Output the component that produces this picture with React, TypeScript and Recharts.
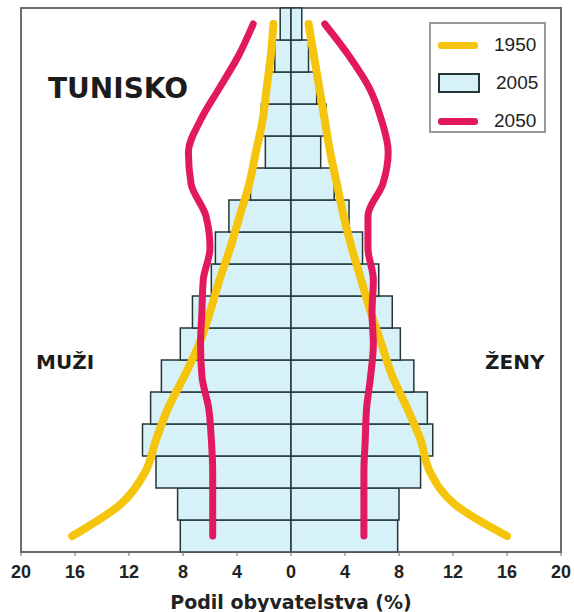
import { ComposedChart, Bar, Line, XAxis, YAxis, ReferenceArea } from 'recharts';

// age groups, youngest first (bottom of the pyramid)
const ages = ['0-4', '5-9', '10-14', '15-19', '20-24', '25-29', '30-34', '35-39', '40-44', '45-49', '50-54', '55-59', '60-64', '65-69', '70-74', '75-79', '80+'];

// 2005 bars (% of population)
const men2005 = [8.2, 8.4, 10.0, 11.0, 10.4, 9.6, 8.2, 7.3, 5.9, 5.6, 4.6, 3.0, 1.9, 2.2, 1.8, 1.2, 0.8];
const women2005 = [7.9, 8.0, 9.6, 10.5, 10.1, 9.1, 8.1, 7.5, 6.5, 5.3, 4.3, 3.2, 2.2, 2.6, 1.9, 1.3, 0.8];

// 1950 curve
const men1950 = [16.2, 12.6, 10.8, 10.0, 9.1, 7.9, 6.8, 6.0, 5.3, 4.5, 3.8, 3.1, 2.6, 2.1, 1.8, 1.5, 1.3];
const women1950 = [16.0, 12.1, 10.3, 9.6, 8.6, 7.5, 6.7, 5.9, 5.2, 4.5, 3.9, 3.4, 2.9, 2.5, 2.1, 1.7, 1.3];

// 2050 curve
const men2050 = [5.8, 5.8, 5.8, 5.9, 6.1, 6.6, 6.7, 6.6, 6.5, 6.0, 6.3, 7.4, 7.6, 6.7, 5.3, 3.9, 2.8];
const women2050 = [5.4, 5.4, 5.4, 5.5, 5.6, 5.9, 6.1, 6.0, 6.1, 5.7, 5.7, 6.8, 7.2, 6.7, 5.8, 4.3, 2.5];

const xTicks = [-20, -16, -12, -8, -4, 0, 4, 8, 12, 16, 20];

const rows = ages.map((age, i) => ({
  age,
  m2005: -men2005[i],
  f2005: women2005[i],
  m1950: -men1950[i],
  f1950: women1950[i],
  m2050: -men2050[i],
  f2050: women2050[i],
}));

const YELLOW = '#f5c40c';
const PINK = '#e2195e';
const BAR_FILL = '#d6f1f7';
const BAR_EDGE = '#263636';

const legendItems = [
  { label: '1950', kind: 'line', color: YELLOW },
  { label: '2005', kind: 'box', color: BAR_FILL },
  { label: '2050', kind: 'line', color: PINK },
];

function LegendBox() {
  return (
    <div style={{ position: 'absolute', left: 429, top: 22, width: 117, height: 111, border: '2px solid #999', background: '#fff', boxSizing: 'border-box', paddingTop: 2 }}>
      {legendItems.map((it) => (
        <div key={it.label} style={{ display: 'flex', alignItems: 'center', height: 38, paddingLeft: 7 }}>
          {it.kind === 'line' ? (
            <div style={{ width: 40, height: 7, borderRadius: 3, background: it.color }} />
          ) : (
            <div style={{ width: 38, height: 16, background: it.color, border: `2px solid ${BAR_EDGE}` }} />
          )}
          <span style={{ marginLeft: 16, fontFamily: 'Liberation Sans', fontSize: 19, color: '#222' }}>{it.label}</span>
        </div>
      ))}
    </div>
  );
}

const sideLabel = { position: 'absolute' as const, fontFamily: 'DejaVu Sans', fontWeight: 700, color: '#1c1c1c' };

export default function App() {
  return (
    <div style={{ position: 'absolute', left: 0, top: 0, width: 574, height: 612, background: '#fff' }}>
      <ComposedChart
        width={574}
        height={612}
        layout="vertical"
        data={rows}
        stackOffset="sign"
        barCategoryGap={0}
        margin={{ top: 8, right: 13, left: 21, bottom: 0 }}
      >
        <XAxis
          type="number"
          domain={[-20, 20]}
          ticks={xTicks}
          tickFormatter={(v) => `${Math.abs(v)}`}
          height={60}
          stroke="#666"
          tickSize={4}
          tickMargin={9}
          tick={{ fill: '#222', fontSize: 18, fontWeight: 700, fontFamily: 'Liberation Sans' }}
          label={{ value: 'Podil obyvatelstva (%)', position: 'insideBottom', offset: 3, fill: '#222', fontSize: 19, fontWeight: 700, fontFamily: 'DejaVu Sans' }}
        />
        <YAxis type="category" dataKey="age" hide width={0} reversed />
        <ReferenceArea x1={-20} x2={20} fill="none" stroke="#6e6e6e" strokeWidth={2} />
        <Bar dataKey="m2005" stackId="p" fill={BAR_FILL} stroke={BAR_EDGE} strokeWidth={1.5} isAnimationActive={false} />
        <Bar dataKey="f2005" stackId="p" fill={BAR_FILL} stroke={BAR_EDGE} strokeWidth={1.5} isAnimationActive={false} />
        <Line dataKey="m1950" type="monotone" stroke={YELLOW} strokeWidth={8} strokeLinecap="round" dot={false} isAnimationActive={false} />
        <Line dataKey="f1950" type="monotone" stroke={YELLOW} strokeWidth={8} strokeLinecap="round" dot={false} isAnimationActive={false} />
        <Line dataKey="m2050" type="monotone" stroke={PINK} strokeWidth={7} strokeLinecap="round" dot={false} isAnimationActive={false} />
        <Line dataKey="f2050" type="monotone" stroke={PINK} strokeWidth={7} strokeLinecap="round" dot={false} isAnimationActive={false} />
      </ComposedChart>
      <LegendBox />
      <div style={{ ...sideLabel, left: 48, top: 72, fontSize: 28 }}>TUNISKO</div>
      <div style={{ ...sideLabel, left: 36, top: 350, fontSize: 20 }}>MUŽI</div>
      <div style={{ ...sideLabel, left: 485, top: 350, fontSize: 20 }}>ŽENY</div>
    </div>
  );
}
